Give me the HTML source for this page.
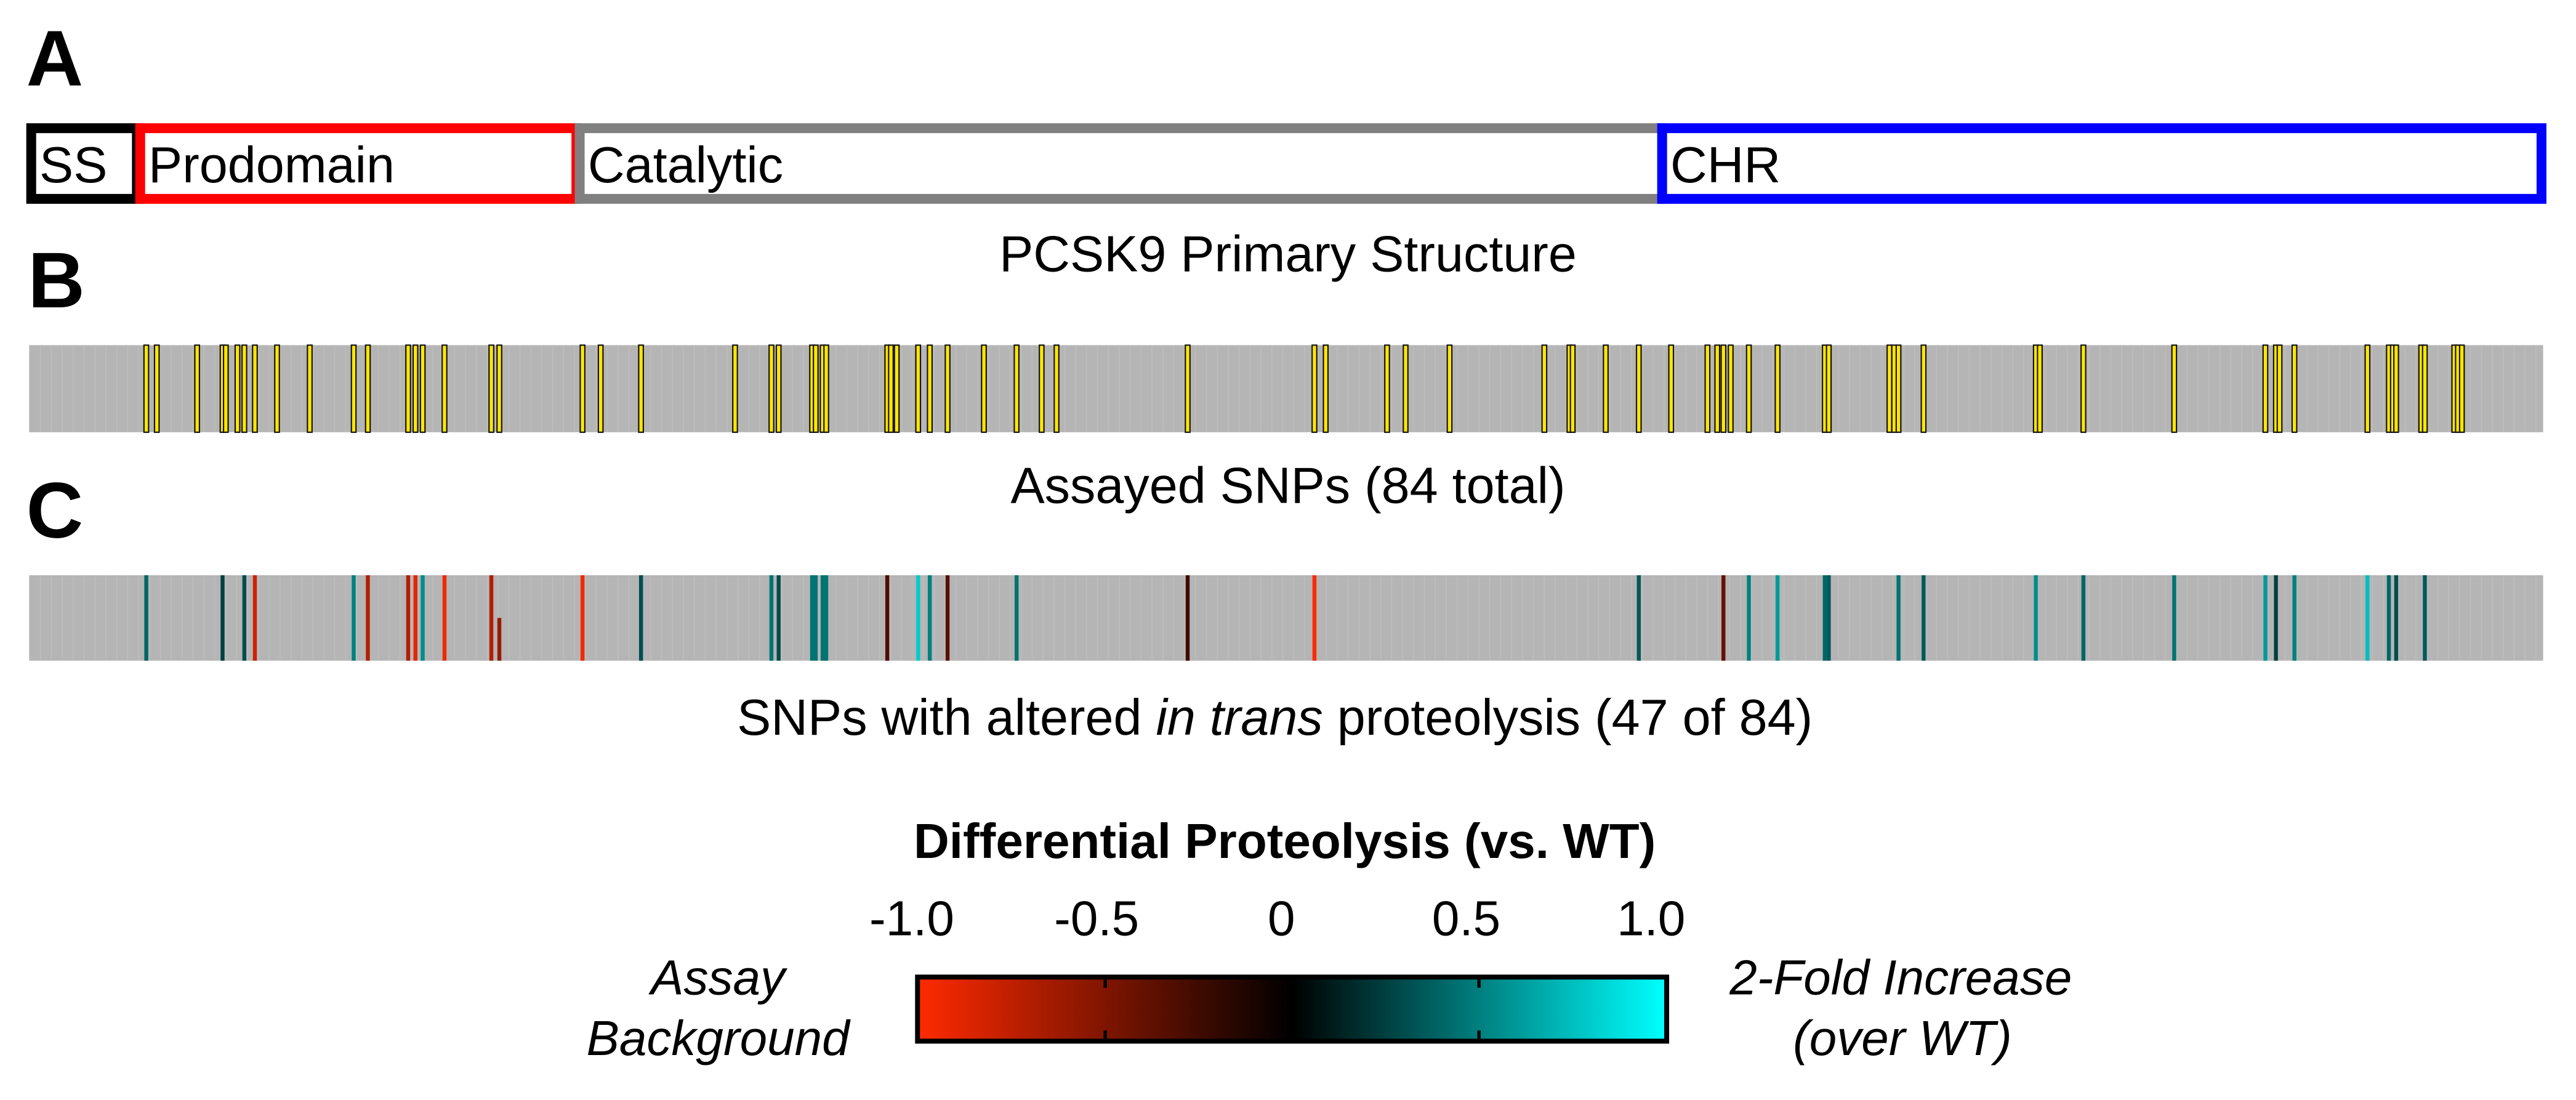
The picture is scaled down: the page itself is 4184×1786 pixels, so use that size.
<!DOCTYPE html>
<html><head><meta charset="utf-8"><style>
html,body{margin:0;padding:0;background:#fff;width:4184px;height:1786px;overflow:hidden}
svg{display:block}
text{font-family:"Liberation Sans",Arial,sans-serif}
</style></head><body>
<svg id="fig" width="4184" height="1786" viewBox="0 0 1568 669.3" preserveAspectRatio="none" xmlns="http://www.w3.org/2000/svg">
<defs>
<linearGradient id="cbar" x1="0" x2="1" y1="0" y2="0">
<stop offset="0" stop-color="#ff2a00"/><stop offset="0.5" stop-color="#000"/><stop offset="1" stop-color="#00ffff"/>
</linearGradient>
</defs>
<text x="16" y="52" font-size="48" font-weight="bold">A</text>
<g id="domains"></g>
<text x="784" y="165" font-size="31" text-anchor="middle">PCSK9 Primary Structure</text>
<text x="17" y="187" font-size="48" font-weight="bold">B</text>
<g id="trackB"></g>
<text x="784" y="306" font-size="31" text-anchor="middle">Assayed SNPs (84 total)</text>
<text x="16" y="327" font-size="48" font-weight="bold">C</text>
<g id="trackC"></g>
<text x="776" y="447" font-size="31" text-anchor="middle">SNPs with altered <tspan font-style="italic">in trans</tspan> proteolysis (47 of 84)</text>
<text x="782" y="522" font-size="30" font-weight="bold" text-anchor="middle">Differential Proteolysis (vs. WT)</text>
<g id="cbticks"></g>
<rect x="558.5" y="594.5" width="456" height="39" fill="url(#cbar)" stroke="#000" stroke-width="3"/>
<g id="cbmarks"></g>
<text x="437" y="605" font-size="30" font-style="italic" text-anchor="middle">Assay</text>
<text x="437" y="642" font-size="30" font-style="italic" text-anchor="middle">Background</text>
<text x="1157" y="605" font-size="30" font-style="italic" text-anchor="middle">2-Fold Increase</text>
<text x="1158" y="642" font-size="30" font-style="italic" text-anchor="middle">(over WT)</text>
</svg>
<script>
const NS="http://www.w3.org/2000/svg";
const totalResidues=692;
const domainNames=["SS","Prodomain","Catalytic","CHR"];
const domainStarts=[1,31,152,450];
const domainEnds=[30,151,450,692];
const domainColors=["#000","#ff0000","#808080","#0000ff"];
const snpResidues=[32,34.9,46,53,53.9,57.1,59,61.9,68,77,89.1,93,104.1,106.1,108.1,114.1,127,129.2,152.1,157.1,168.2,194.1,204.1,206.1,215.3,216.3,218.2,219.2,236,237,238.6,244.5,247.7,252.6,262.6,271.6,278.5,282.6,318.7,353.6,356.7,373.6,378.7,390.8,416.9,423.8,424.7,433.8,442.9,451.8,461.8,464.5,466.2,468.2,473.2,481.1,494.1,495.2,511.9,513.2,514.4,521.3,552.2,553.3,565.3,590.3,615.4,618.3,619.3,623.4,643.5,649.4,650.5,651.4,658.3,659.3,667.4,668.4,669.5];
const alteredResidues=[32,53,59,61.9,89.1,93,104.1,106.1,108.1,114.1,127,129.2,152.1,168.2,204.1,206.1,215.3,216.3,218.2,219.2,236,244.5,247.7,252.6,271.6,318.7,353.6,442.9,466.2,473.2,481.1,494.1,495.2,514.4,521.3,552.2,565.3,590.3,615.4,618.3,623.4,643.5,649.4,651.4,659.3];
const alteredValues=[0.4,0.25,0.3,-0.8,0.5,-0.7,-0.7,-0.9,0.55,-0.95,-0.7,-0.6,-0.95,0.3,0.45,0.3,0.45,0.45,0.45,0.45,-0.3,0.8,0.5,-0.35,0.45,-0.25,-1.0,0.35,-0.4,0.5,0.6,0.4,0.35,0.45,0.35,0.55,0.4,0.45,0.6,0.25,0.5,0.75,0.4,0.3,0.35];
const tickValues=[-1,-0.5,0,0.5,1];
const tickLabels=["-1.0","-0.5","0","0.5","1.0"];

const X0=18,X1=1548;
function xr(r){return X0+(r-1)/(totalResidues)*(X1-X0);}
function xm(r){return xr(r)+2.5;}
function cb(v){return 555+(v+1)/2*450;}
function color(v){
  let r,g,b;
  if(v<0){const t=-v;r=255*t;g=42*t;b=0;}else{const t=v;r=0;g=255*t;b=255*t;}
  return `rgb(${Math.round(r)},${Math.round(g)},${Math.round(b)})`;
}
function mk(tag,attrs,parent){const e=document.createElementNS(NS,tag);for(const k in attrs)e.setAttribute(k,attrs[k]);parent.appendChild(e);return e;}

const dg=document.getElementById('domains');
domainNames.forEach((n,i)=>{
  const a=xr(domainStarts[i]),b=(i==domainNames.length-1)?X1:xr(domainEnds[i]+1);
  const r=mk('rect',{x:a+1,y:78,width:b-a-2,height:43,fill:'#fff',stroke:domainColors[i],'stroke-width':6},dg);
  
  
});
domainNames.forEach((n,i)=>{
  const a=xr(domainStarts[i]);
  const t=mk('text',{x:a+6,y:111,'font-size':31},dg);t.textContent=n;
  
  
});

function track(g,y,h){
  const bg=mk('rect',{x:X0,y:y,width:X1-X0,height:h,fill:'#b5b5b5'},g);
  
  
  for(let r=1;r<=totalResidues;r+=3){mk('line',{x1:xr(r),x2:xr(r),y1:y,y2:y+h,stroke:'#bdbdbd','stroke-width':0.6},g);}
}
const gB=document.getElementById('trackB');
track(gB,210,53);
snpResidues.forEach((r,i)=>{
  const e=mk('rect',{x:xm(r)-1.4,y:210,width:2.8,height:53,fill:'#ffe600',stroke:'#111','stroke-width':0.8},gB);
  
  
});
const gC=document.getElementById('trackC');
track(gC,350,52);
alteredResidues.forEach((r,i)=>{
  const half=(i==11);
  const e=mk('rect',{x:xm(r)-1.2,y:half?376:350,width:2.4,height:half?26:52,fill:color(alteredValues[i])},gC);
  
  
});
const gt=document.getElementById('cbticks'),gm=document.getElementById('cbmarks');
tickValues.forEach((v,i)=>{
  const t=mk('text',{x:cb(v),y:569,'font-size':30,'text-anchor':'middle'},gt);t.textContent=tickLabels[i];
  
  
  if(Math.abs(v)==0.5){
    const p=559+(v+1)/2*455;
    mk('line',{x1:p,x2:p,y1:595,y2:601,stroke:'#000','stroke-width':2},gm);
    mk('line',{x1:p,x2:p,y1:627,y2:633,stroke:'#000','stroke-width':2},gm);
  }
});
</script>
</body></html>
